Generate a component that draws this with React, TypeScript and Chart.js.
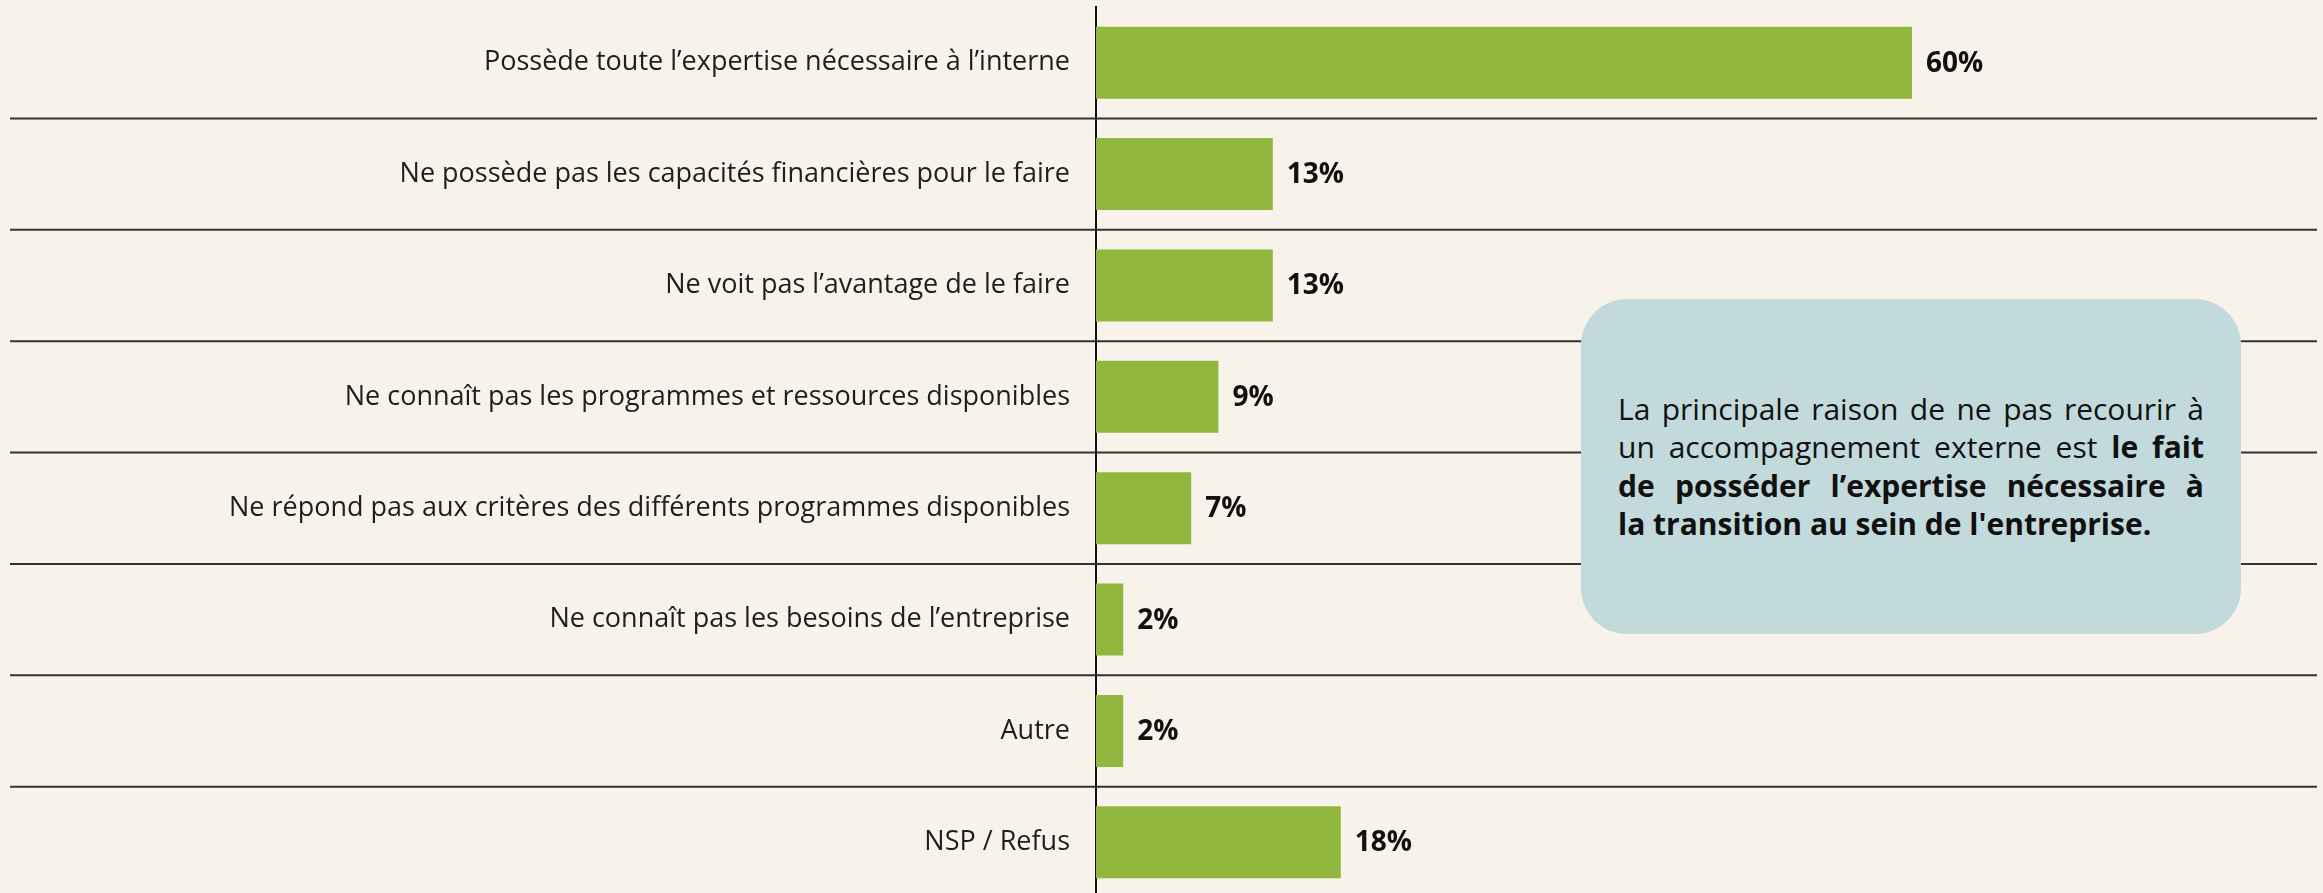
import React, { useEffect, useRef } from "react";
import { Chart, registerables } from "chart.js";

Chart.register(...registerables);

const categories = [
  "Possède toute l’expertise nécessaire à l’interne",
  "Ne possède pas les capacités financières pour le faire",
  "Ne voit pas l’avantage de le faire",
  "Ne connaît pas les programmes et ressources disponibles",
  "Ne répond pas aux critères des différents programmes disponibles",
  "Ne connaît pas les besoins de l’entreprise",
  "Autre",
  "NSP / Refus",
];
const values = [60, 13, 13, 9, 7, 2, 2, 18];
const valueSuffix = "%";

const calloutLines = [
  { normal: "La principale raison de ne pas recourir à", bold: "" },
  { normal: "un accompagnement externe est ", bold: "le fait" },
  { normal: "", bold: "de posséder l’expertise nécessaire à" },
  { normal: "", bold: "la transition au sein de l'entreprise." },
];

const BG = "#f7f3ea";
const BAR = "#92b73e";
const FONT = "'Open Sans', Lato, sans-serif";

export default function App() {
  const ref = useRef<HTMLCanvasElement | null>(null);

  useEffect(() => {
    document.body.style.margin = "0";
    document.body.style.background = BG;
    const canvas = ref.current;
    if (!canvas) return;

    const separators = {
      id: "separators",
      beforeDatasetsDraw(chart: any) {
        const y = chart.scales.y;
        const ctx = chart.ctx;
        ctx.save();
        ctx.strokeStyle = "#333333";
        ctx.lineWidth = 2;
        for (let i = 0; i < categories.length - 1; i++) {
          const p = (y.getPixelForValue(i) + y.getPixelForValue(i + 1)) / 2;
          ctx.beginPath();
          ctx.moveTo(10, p);
          ctx.lineTo(2317, p);
          ctx.stroke();
        }
        ctx.restore();
      },
    };

    const valueLabelsPlugin = {
      id: "valueLabels",
      afterDatasetsDraw(chart: any) {
        const ctx = chart.ctx;
        const meta = chart.getDatasetMeta(0);
        ctx.save();
        ctx.fillStyle = "#111111";
        ctx.font = `bold 28px ${FONT}`;
        ctx.textAlign = "left";
        ctx.textBaseline = "middle";
        meta.data.forEach((bar: any, i: number) => {
          ctx.fillText(values[i] + valueSuffix, bar.x + 14, bar.y + 1);
        });
        ctx.restore();
      },
    };

    const chart = new Chart(canvas, {
      type: "bar",
      data: {
        labels: categories,
        datasets: [
          {
            data: values,
            backgroundColor: BAR,
            borderWidth: 0,
            barPercentage: 0.646,
            categoryPercentage: 1,
          },
        ],
      },
      options: {
        indexAxis: "y",
        animation: false,
        responsive: false,
        maintainAspectRatio: false,
        layout: { padding: { top: 7, bottom: 2, left: 0, right: 3 } },
        plugins: {
          legend: { display: false },
          tooltip: { enabled: false },
        },
        scales: {
          x: {
            display: false,
            min: 0,
            max: 90,
          },
          y: {
            afterFit(scale: any) {
              scale.width = 1096;
              scale.paddingTop = 0;
              scale.paddingBottom = 0;
            },
            grid: { display: false, drawTicks: false },
            border: { display: true, color: "#111111", width: 2 },
            ticks: {
              padding: 26,
              color: "#1e1e1e",
              font: { family: FONT, size: 27 },
            },
          },
        },
      },
      plugins: [separators, valueLabelsPlugin],
    });

    return () => chart.destroy();
  }, []);

  return (
    <div
      style={{
        position: "fixed",
        left: 0,
        top: 0,
        width: 2323,
        height: 893,
        overflow: "hidden",
        background: BG,
      }}
    >
      <canvas
        ref={ref}
        width={2323}
        height={900}
        style={{ position: "absolute", left: 0, top: 0, width: 2323, height: 900 }}
      />
      <div
        style={{
          position: "absolute",
          left: 1581,
          top: 299,
          width: 660,
          height: 335,
          borderRadius: 46,
          background: "#c2dadb",
          boxSizing: "border-box",
          padding: "0 37px",
          display: "flex",
          flexDirection: "column",
          justifyContent: "center",
          fontFamily: FONT,
          fontSize: 30,
          lineHeight: "38.5px",
          color: "#111111",
        }}
      >
        {calloutLines.map((l, i) => (
          <div
            key={i}
            style={{
              textAlign: "justify",
              textAlignLast: i < calloutLines.length - 1 ? "justify" : "left",
              whiteSpace: "nowrap",
            }}
          >
            {l.normal}
            {l.bold ? <b>{l.bold}</b> : null}
          </div>
        ))}
      </div>
    </div>
  );
}
